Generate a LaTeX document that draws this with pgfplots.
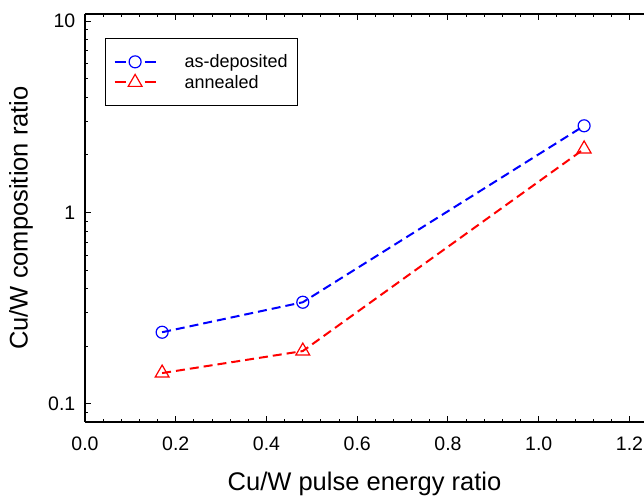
\documentclass[border=0pt]{standalone}
\usepackage{pgfplots}
\pgfplotsset{compat=1.18}
\usepackage{fontspec}
\setmainfont{Liberation Sans}
\newcommand\fs{\fontsize{19.5}{22}\selectfont}

\begin{document}
\begin{tikzpicture}
\begin{axis}[
    name=ax,
    scale only axis,
    width=559pt, height=408pt,
    xmin=0, xmax=1.232,
    ymode=log, ymin=0.0805, ymax=10.9,
    axis x line*=box, axis y line*=left,
    axis line style={line width=1.2pt},
    tick align=inside,
    major tick length=6pt, minor tick length=3pt,
    tick style={black, line width=1pt},
    xtick={0,0.2,0.4,0.6,0.8,1.0,1.2},
    xticklabels={0.0,0.2,0.4,0.6,0.8,1.0,1.2},
    minor xtick={0.04,0.08,...,1.24},
    ytick={0.1,1,10},
    yticklabels={0.1,1,10},
    minor ytick={0.09,0.2,0.3,0.4,0.5,0.6,0.7,0.8,0.9,2,3,4,5,6,7,8,9},
    tick label style={font=\fs},
    xticklabel style={anchor=base, inner sep=0pt, yshift=-29pt},
    yticklabel style={anchor=east, inner sep=0pt, xshift=-9.5pt},
    xlabel={Cu/W pulse energy ratio},
    ylabel={Cu/W composition ratio},
    every axis x label/.style={at={(rel axis cs:0.5,0)}, anchor=base, yshift=-68pt,
        font=\fontsize{25.5}{28}\selectfont},
    every axis y label/.style={at={(rel axis cs:0,0.5)}, anchor=center, rotate=90, yshift=64pt,
        font=\fontsize{25.5}{28}\selectfont},
    legend style={at={(0.036,0.941)}, anchor=north west, draw=black, line width=1pt,
        font=\fontsize{18}{21}\selectfont, inner xsep=8pt, inner ysep=14pt,
        row sep=2pt, column sep=26pt, fill=white},
    legend cell align=left,
    legend image code/.code={
        \draw[#1, mark=none, dash pattern=on 11pt off 19pt on 11pt] (0pt,0pt) -- (41pt,0pt);
        \draw[#1, solid] plot coordinates {(20.5pt,0pt)};
    },
]
\addplot[blue, line width=2pt, dash pattern=on 9pt off 5pt,
    mark=o, mark size=6pt, mark options={solid, fill=white, line width=1.2pt}]
    coordinates {(0.17,0.237)(0.48,0.34)(1.1,2.84)};
\addlegendentry{as-deposited}
\addplot[red, line width=2pt, dash pattern=on 9pt off 5pt,
    mark=triangle, mark size=8pt, mark options={solid, fill=white, line width=1.2pt}]
    coordinates {(0.17,0.145)(0.48,0.189)(1.1,2.15)};
\addlegendentry{annealed}
\end{axis}
\pgfresetboundingbox
\path ([xshift=-85pt,yshift=-74pt]ax.south west) rectangle ([yshift=14pt]ax.north east);
\end{tikzpicture}
\end{document}
